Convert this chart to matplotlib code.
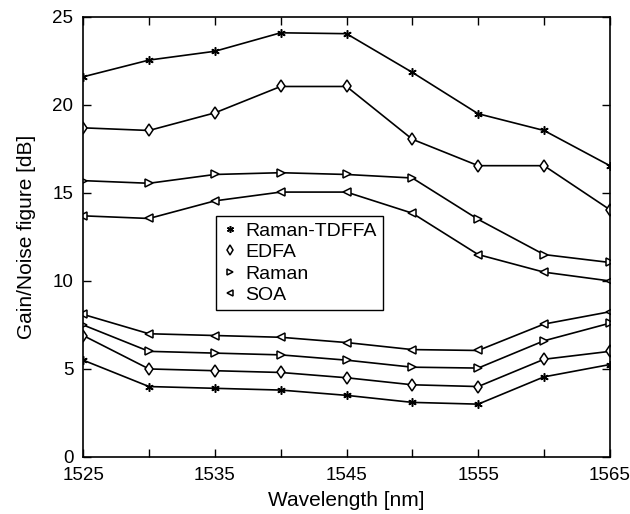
import numpy as np
import matplotlib
matplotlib.use('Agg')
import matplotlib.pyplot as plt

plt.rcParams['font.family'] = ['Liberation Sans', 'DejaVu Sans']

wl = [1525, 1530, 1535, 1540, 1545, 1550, 1555, 1560, 1565]

# gain curves
gain_tdffa = [21.6, 22.55, 23.05, 24.1, 24.05, 21.85, 19.5, 18.55, 16.55]
gain_edfa = [18.7, 18.55, 19.55, 21.05, 21.05, 18.05, 16.55, 16.55, 14.05]
gain_raman = [15.7, 15.55, 16.05, 16.15, 16.05, 15.85, 13.5, 11.5, 11.05]
gain_soa = [13.7, 13.55, 14.55, 15.05, 15.05, 13.85, 11.5, 10.5, 10.0]

# noise figure curves
nf_tdffa = [5.5, 4.0, 3.9, 3.8, 3.5, 3.1, 3.0, 4.55, 5.25]
nf_edfa = [6.9, 5.0, 4.9, 4.8, 4.5, 4.1, 4.0, 5.55, 6.0]
nf_raman = [7.5, 6.0, 5.9, 5.8, 5.5, 5.1, 5.05, 6.6, 7.6]
nf_soa = [8.1, 7.0, 6.9, 6.8, 6.5, 6.1, 6.05, 7.55, 8.25]

labels = ['Raman-TDFFA', 'EDFA', 'Raman', 'SOA']
markers = [(6, 2, 0), 'd', '>', '<']

fig = plt.figure(figsize=(6.3, 5.14), dpi=100)
ax = fig.add_axes([0.132, 0.111, 0.836, 0.856])

gains = [gain_tdffa, gain_edfa, gain_raman, gain_soa]
nfs = [nf_tdffa, nf_edfa, nf_raman, nf_soa]
for g, n, m in zip(gains, nfs, markers):
    ax.plot(wl, g, color='black', lw=1.2, marker=m, ms=6, mfc='white', mec='black', mew=1.1)
    ax.plot(wl, n, color='black', lw=1.2, marker=m, ms=6, mfc='white', mec='black', mew=1.1)

handles = [plt.Line2D([], [], ls='none', marker=m, ms=5, mfc='white', mec='black', mew=1.1, color='black')
           for m in markers]
leg = ax.legend(handles, labels, loc='upper left', bbox_to_anchor=(0.253, 0.547),
                fontsize=14, frameon=True, fancybox=False, edgecolor='black', framealpha=1,
                handlelength=0.8, handletextpad=0.4, borderpad=0.3, labelspacing=0.2,
                borderaxespad=0)
leg.get_frame().set_linewidth(1.0)

ax.set_xlim(1525, 1565)
ax.set_ylim(0, 25)
ax.set_xticks(np.arange(1525, 1566, 5))
ax.set_xticklabels(['1525', '', '1535', '', '1545', '', '1555', '', '1565'])
ax.set_yticks([0, 5, 10, 15, 20, 25])
ax.tick_params(direction='in', top=True, right=True, length=6, width=1, labelsize=13.5, pad=7)
for s in ax.spines.values():
    s.set_linewidth(1.2)

ax.set_xlabel('Wavelength [nm]', fontsize=15, labelpad=5)
ax.set_ylabel('Gain/Noise figure [dB]', fontsize=15, labelpad=12)

fig.savefig('out.png', dpi=100)
